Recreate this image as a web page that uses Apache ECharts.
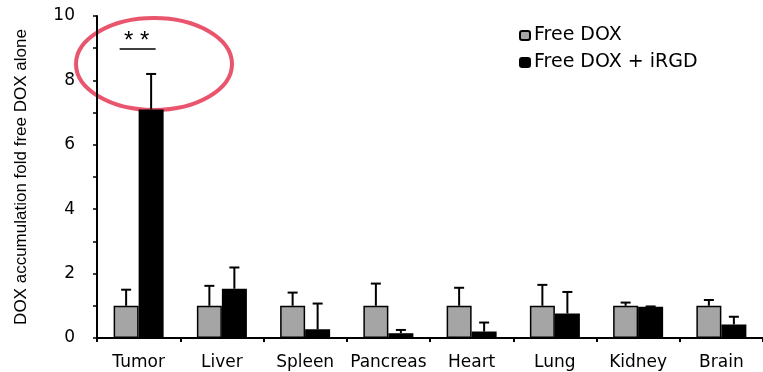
<!DOCTYPE html>
<html>
<head>
<meta charset="utf-8">
<script src="https://cdn.jsdelivr.net/npm/echarts@6/dist/echarts.min.js"></script>
<style>
  html, body { margin: 0; padding: 0; background: #fff; }
  #chart { width: 763px; height: 372px; }
</style>
</head>
<body>
<div id="chart"></div>
<script>
// Organ categories and fold-change values
const organs = ['Tumor', 'Liver', 'Spleen', 'Pancreas', 'Heart', 'Lung', 'Kidney', 'Brain'];
const freeDox = [1, 1, 1, 1, 1, 1, 1, 1];
const freeDoxErr = [1.5, 1.62, 1.41, 1.69, 1.56, 1.65, 1.1, 1.18];      // top of error bar
const doxIrgd = [7.1, 1.53, 0.27, 0.15, 0.2, 0.76, 0.97, 0.42];
const doxIrgdErr = [8.2, 2.19, 1.07, 0.25, 0.48, 1.43, 0.98, 0.66];     // top of error bar
const yTicks = [0, 2, 4, 6, 8, 10];

const SANS = 'Liberation Sans, Arial, sans-serif';
const WIDE = 'DejaVu Sans, Verdana, sans-serif';
const BAR_W = 25;

const chart = echarts.init(document.getElementById('chart'));

function errorSeries(tops, bases, side) {
  return {
    type: 'custom',
    silent: true,
    z: 1,
    data: organs.map((o, i) => [i, bases[i], tops[i]]),
    renderItem: function (params, api) {
      const idx = api.value(0);
      const base = api.coord([idx, api.value(1)]);
      const top = api.coord([idx, api.value(2)]);
      const x = base[0] + side * BAR_W / 2;
      const cap = 5;
      return {
        type: 'group',
        children: [
          { type: 'line', shape: { x1: x, y1: base[1], x2: x, y2: top[1] },
            style: { stroke: '#000', lineWidth: 2 } },
          { type: 'line', shape: { x1: x - cap, y1: top[1], x2: x + cap, y2: top[1] },
            style: { stroke: '#000', lineWidth: 2 } }
        ]
      };
    }
  };
}

chart.setOption({
  animation: false,
  grid: { left: 97, right: 0, top: 16, bottom: 34, containLabel: false },
  legend: {
    orient: 'vertical',
    left: 514,
    top: 21,
    itemWidth: 10,
    itemHeight: 9,
    itemGap: 8,
    textStyle: { fontFamily: WIDE, fontSize: 19, color: '#000', padding: [0, 0, 0, -1] },
    data: ['Free DOX', 'Free DOX + iRGD']
  },
  xAxis: {
    type: 'category',
    data: organs,
    axisLine: { lineStyle: { color: '#000', width: 2 } },
    axisTick: { show: true, length: 4, lineStyle: { color: '#000', width: 2 } },
    axisLabel: { color: '#000', fontFamily: WIDE, fontSize: 17, margin: 16, interval: 0 }
  },
  yAxis: {
    type: 'value',
    min: 0,
    max: 10,
    interval: 1,
    name: 'DOX accumulation fold free DOX alone',
    nameLocation: 'middle',
    nameGap: 67,
    nameTextStyle: { fontFamily: SANS, fontSize: 17, color: '#000' },
    axisLine: { show: true, lineStyle: { color: '#000', width: 2 } },
    axisTick: { show: true, length: 4, lineStyle: { color: '#000', width: 1.5 } },
    splitLine: { show: false },
    axisLabel: {
      color: '#000', fontFamily: WIDE, fontSize: 17, margin: 22,
      formatter: v => (yTicks.indexOf(v) >= 0 ? String(v) : '')
    }
  },
  series: [
    errorSeries(freeDoxErr, freeDox, -1),
    errorSeries(doxIrgdErr, doxIrgd, 1),
    {
      name: 'Free DOX',
      type: 'bar',
      z: 2,
      barWidth: BAR_W,
      barGap: '0%',
      data: freeDox,
      itemStyle: { color: '#a5a5a5', borderColor: '#000', borderWidth: 1.5 }
    },
    {
      name: 'Free DOX + iRGD',
      type: 'bar',
      z: 2,
      barWidth: BAR_W,
      barGap: '0%',
      data: doxIrgd,
      itemStyle: { color: '#000', borderColor: '#000', borderWidth: 1.5 }
    }
  ]
});

// Significance marker over the tumor pair, with highlighting ring
const cx = chart.convertToPixel({ xAxisIndex: 0 }, 0);
const yBar = 49;
chart.setOption({
  graphic: [
    { type: 'line', shape: { x1: cx - 19, y1: yBar, x2: cx + 17, y2: yBar },
      style: { stroke: '#000', lineWidth: 1.5 } },
    { type: 'text', x: cx - 2, y: yBar - 20,
      style: { text: '* *', fontFamily: SANS, fontSize: 24, fill: '#000',
               align: 'center', verticalAlign: 'top' } },
    { type: 'ellipse', shape: { cx: 154, cy: 64, rx: 78, ry: 46 },
      style: { fill: 'none', stroke: '#e9556c', lineWidth: 4 } }
  ]
});
</script>
</body>
</html>
